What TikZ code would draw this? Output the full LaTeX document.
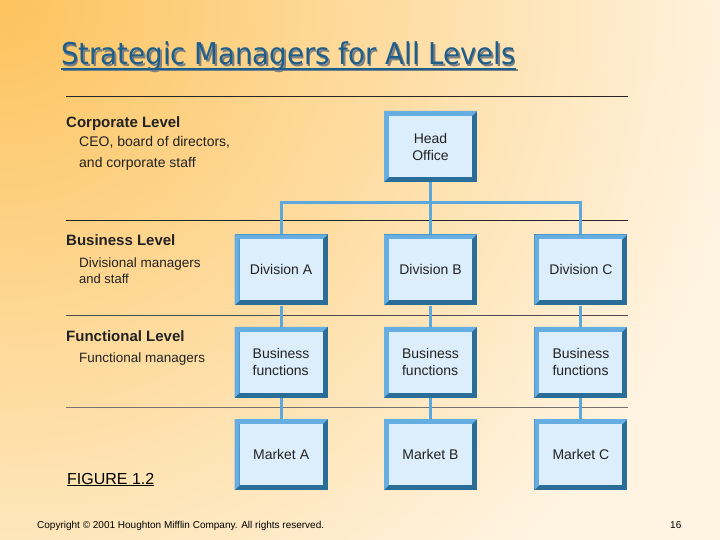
\documentclass[tikz,border=0pt]{standalone}
\usepackage{fontspec}
\setmainfont{Liberation Sans}
\newfontfamily\titlefont[FakeStretch=0.92]{DejaVu Sans}
\usetikzlibrary{positioning,backgrounds}
\definecolor{smorange}{HTML}{FDC35C}
\definecolor{smcream}{HTML}{FFF4E2}
\definecolor{smlight}{HTML}{66AEE2}
\definecolor{smdark}{HTML}{2B6D99}
\definecolor{smfill}{HTML}{DCEEFB}
\definecolor{smtitle}{HTML}{1D5E8A}
\definecolor{smline}{HTML}{5BA8DE}
\definecolor{smtext}{HTML}{222222}

\begin{document}
\begin{tikzpicture}[x=1pt,y=-1pt,
   node distance=21pt and 56pt,
   unit/.style={fill=smdark,inner sep=0pt,minimum width=93pt,minimum height=71pt,
                align=center,font=\fontsize{14}{17}\selectfont,text=smtext,
                path picture={
                  \coordinate (pa) at ([shift={(5pt,5pt)}]path picture bounding box.south west);
                  \coordinate (pb) at ([shift={(-5pt,-5pt)}]path picture bounding box.north east);
                  \fill[smlight] (path picture bounding box.south west)
                     |- (path picture bounding box.north east) -- (pb) -| (pa) -- cycle;
                  \fill[smfill] (pa) rectangle (pb);}},
   level/.style={anchor=base west,inner sep=0pt,text=smtext,
                 font=\bfseries\fontsize{15}{18}\selectfont},
   duty/.style={anchor=base west,inner sep=0pt,text=smtext,
                font=\fontsize{14}{17}\selectfont},
   heading/.style={anchor=base west,inner sep=0pt,
                   font=\titlefont\fontsize{30}{36}\selectfont},
   link/.style={smline,line width=3pt},
   rule/.style={black!85,line width=0.8pt}]
  \useasboundingbox (0,0) rectangle (720,540);
  % title
  \node[heading,text=black!50] (titleshade) at (62.5,66.5) {Strategic Managers for All Levels};
  \draw[black!50,line width=2pt] ([yshift=-4pt]titleshade.base west) -- ([yshift=-4pt]titleshade.base east);
  \node[heading,text=smtitle] (title) at (61,65) {Strategic Managers for All Levels};
  \draw[smtitle,line width=2pt] ([yshift=-4pt]title.base west) -- ([yshift=-4pt]title.base east);
  % levels
  \node[level] (corp) at (66,128) {Corporate Level};
  \node[duty] (corp1) at (79,147) {CEO, board of directors,};
  \node[duty] (corp2) at (79,168) {and corporate staff};
  \node[level] (bus) at (66,245) {Business Level};
  \node[duty,font=\fontsize{13.5}{16}\selectfont] (bus1) at (79,267) {Divisional managers};
  \node[duty,font=\fontsize{13}{16}\selectfont] (bus2) at (79,283) {and staff};
  \node[level] (func) at (66,341) {Functional Level};
  \node[duty,font=\fontsize{13.5}{16}\selectfont] (func1) at (79,362) {Functional managers};
  % chart
  \node[unit] (head) at (430.5,146.5) {Head\\Office};
  \node[unit,below=52pt of head] (divB) {Division B};
  \node[unit,left=of divB] (divA) {Division A};
  \node[unit,right=57pt of divB] (divC) {Division C};
  \node[unit,align=left,below=of divA] (funcA) {Business\\functions};
  \node[unit,align=left,below=of divB] (funcB) {Business\\functions};
  \node[unit,align=left,below=of divC] (funcC) {Business\\functions};
  \node[unit,below=of funcA] (mktA) {Market A};
  \node[unit,below=of funcB] (mktB) {Market B};
  \node[unit,below=of funcC] (mktC) {Market C};
  % footer
  \node[anchor=base west,inner sep=0pt,font=\fontsize{16}{18}\selectfont] (fig) at (67,484) {\underline{FIGURE 1.2}};
  \node[anchor=base west,inner sep=0pt,font=\fontsize{10}{12}\selectfont] (copy) at (37,528)
       {Copyright © 2001 Houghton Mifflin Company. All rights reserved.};
  \node[anchor=base west,inner sep=0pt,font=\fontsize{10}{12}\selectfont] (page) at (670,528) {16};
  \begin{scope}[on background layer]
    \clip (0,0) rectangle (720,540);
    \fill[smcream] (0,0) rectangle (720,540);
    \foreach \r in {150,...,1}{
      \pgfmathsetmacro\mix{max(0,100*(1-\r*5/760))}
      \fill[smorange!\mix!smcream] (0,0) circle (\r*5pt);
    }
    \draw[rule] (66,96) -- (628,96);
    \draw[rule] (66,220) -- (628,220);
    \draw[rule,black!70] (66,315) -- (628,315);
    \draw[rule,black!55] (66,407) -- (628,407);
    \draw[link] (head) -- (divB);
    \draw[link] (divA.north) |- ([yshift=-20pt]head.south) -| (divC.north);
    \draw[link] (divA) -- (funcA) -- (mktA);
    \draw[link] (divB) -- (funcB) -- (mktB);
    \draw[link] (divC) -- (funcC) -- (mktC);
  \end{scope}
\end{tikzpicture}
\end{document}
